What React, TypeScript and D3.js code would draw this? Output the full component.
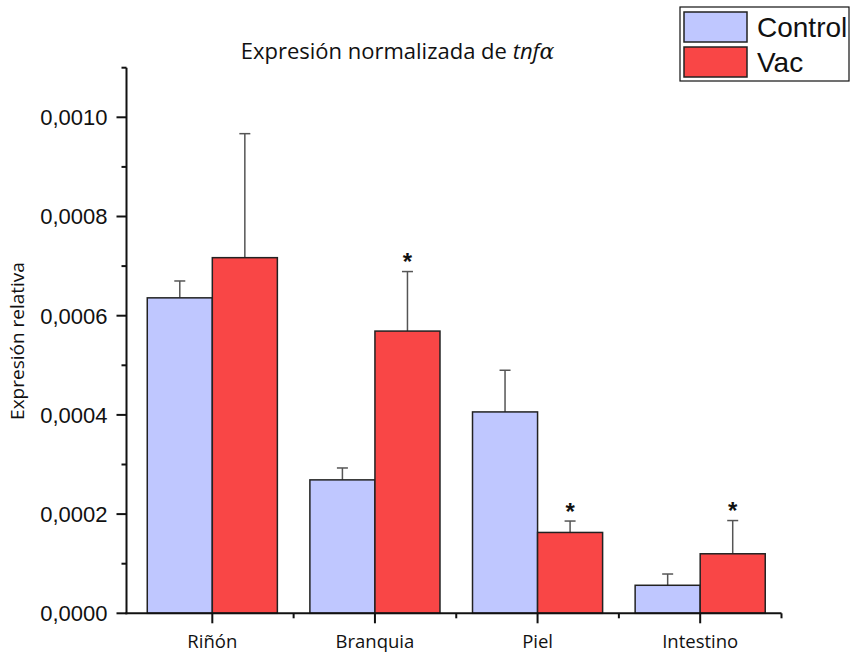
import { useEffect } from 'react';
import * as d3 from 'd3';

const CATEGORIES = ['Riñón', 'Branquia', 'Piel', 'Intestino'];
const SERIES = ['Control', 'Vac'];
const CONTROL_MEAN = [0.000636, 0.000269, 0.000406, 0.0000565];
const CONTROL_ERR = [0.000034, 0.000024, 0.000084, 0.0000227];
const VAC_MEAN = [0.000717, 0.000569, 0.000163, 0.00012];
const VAC_ERR = [0.00025, 0.00012, 0.000023, 0.000067];
const VAC_SIGNIFICANT = [false, true, true, true];
const Y_TICKS = [0, 0.0002, 0.0004, 0.0006, 0.0008, 0.001];
const Y_MINOR = [0.0001, 0.0003, 0.0005, 0.0007, 0.0009, 0.0011];

const COLORS: Record<string, string> = { Control: '#bfc7ff', Vac: '#f94646' };
const WIDTH = 850;
const HEIGHT = 653;

export default function App() {
  useEffect(() => {
    document.body.style.margin = '0';
  }, []);

  const x = d3
    .scaleBand<string>()
    .domain(CATEGORIES)
    .range([131, 781.5])
    .paddingInner(0.2)
    .paddingOuter(0.1);
  const xs = d3.scaleBand<string>().domain(SERIES).range([0, x.bandwidth()]);
  const y = d3.scaleLinear().domain([0, 0.0011]).range([613.3, 67.7]);
  const axisLeft = 126.5;
  const axisRight = 781.5;
  const fmt = (v: number) => d3.format('.4f')(v).replace('.', ',');

  const rows = CATEGORIES.map((c, i) => ({
    cat: c,
    bars: [
      { s: 'Control', v: CONTROL_MEAN[i], e: CONTROL_ERR[i], sig: false },
      { s: 'Vac', v: VAC_MEAN[i], e: VAC_ERR[i], sig: VAC_SIGNIFICANT[i] },
    ],
  }));

  const sans = "'Open Sans', sans-serif";
  const arial = "'Liberation Sans', Arial, sans-serif";

  return (
    <svg width={WIDTH} height={HEIGHT} style={{ display: 'block', background: '#fff' }}>
      {/* title */}
      <text x={397.5} y={59} textAnchor="middle" fontFamily={sans} fontSize={22} fill="#111">
        Expresión normalizada de <tspan fontStyle="italic">tnf</tspan>
        <tspan fontStyle="italic" fontFamily="'DejaVu Serif', serif">α</tspan>
      </text>

      {/* bars */}
      {rows.map((r) =>
        r.bars.map((b) => {
          const bx = x(r.cat)! + xs(b.s)!;
          const w = xs.bandwidth();
          const cx = bx + w / 2;
          const top = y(b.v);
          const et = y(b.v + b.e);
          return (
            <g key={r.cat + b.s}>
              <line x1={cx} x2={cx} y1={top} y2={et} stroke="#555" strokeWidth={1.5} />
              <line x1={cx - 5.5} x2={cx + 5.5} y1={et} y2={et} stroke="#555" strokeWidth={1.5} />
              <rect
                x={bx}
                y={top}
                width={w}
                height={y(0) - top}
                fill={COLORS[b.s]}
                stroke="#222"
                strokeWidth={1.5}
              />
              {b.sig && (
                <text
                  x={cx}
                  y={et - 1.5}
                  textAnchor="middle"
                  fontFamily={arial}
                  fontWeight="bold"
                  fontSize={24}
                  fill="#111"
                >
                  *
                </text>
              )}
            </g>
          );
        })
      )}

      {/* y axis */}
      <line x1={axisLeft} x2={axisLeft} y1={y(0.0011)} y2={y(0) + 1} stroke="#111" strokeWidth={2} />
      {Y_TICKS.map((t) => (
        <g key={t}>
          <line x1={axisLeft - 10} x2={axisLeft} y1={y(t)} y2={y(t)} stroke="#111" strokeWidth={2} />
          <text
            x={axisLeft - 19}
            y={y(t)}
            dy="0.36em"
            textAnchor="end"
            fontFamily={arial}
            fontSize={22}
            fill="#111"
          >
            {fmt(t)}
          </text>
        </g>
      ))}
      {Y_MINOR.map((t) => (
        <line key={t} x1={axisLeft - 5} x2={axisLeft} y1={y(t)} y2={y(t)} stroke="#111" strokeWidth={2} />
      ))}
      <text
        transform={`translate(24,341) rotate(-90)`}
        textAnchor="middle"
        fontFamily={sans}
        fontSize={19}
        fill="#111"
      >
        Expresión relativa
      </text>

      {/* x axis */}
      <line x1={axisLeft - 1} x2={axisRight} y1={y(0)} y2={y(0)} stroke="#111" strokeWidth={2} />
      {CATEGORIES.map((c) => {
        const cx = x(c)! + x.bandwidth() / 2;
        const bound = cx + x.step() / 2;
        return (
          <g key={c}>
            <line x1={cx} x2={cx} y1={y(0)} y2={y(0) + 10} stroke="#111" strokeWidth={2} />
            <line x1={bound} x2={bound} y1={y(0)} y2={y(0) + 5} stroke="#111" strokeWidth={2} />
            <text x={cx} y={648} textAnchor="middle" fontFamily={sans} fontSize={18.5} fill="#111">
              {c}
            </text>
          </g>
        );
      })}

      {/* legend */}
      <rect x={680} y={7} width={169} height={74} fill="#fff" stroke="#111" strokeWidth={1.2} />
      {SERIES.map((s, i) => (
        <g key={s} transform={`translate(684,${12 + i * 35})`}>
          <rect width={63} height={30} fill={COLORS[s]} stroke="#222" strokeWidth={1.5} />
          <text x={73} y={25} fontFamily={arial} fontSize={28} fill="#111">
            {s}
          </text>
        </g>
      ))}
    </svg>
  );
}
